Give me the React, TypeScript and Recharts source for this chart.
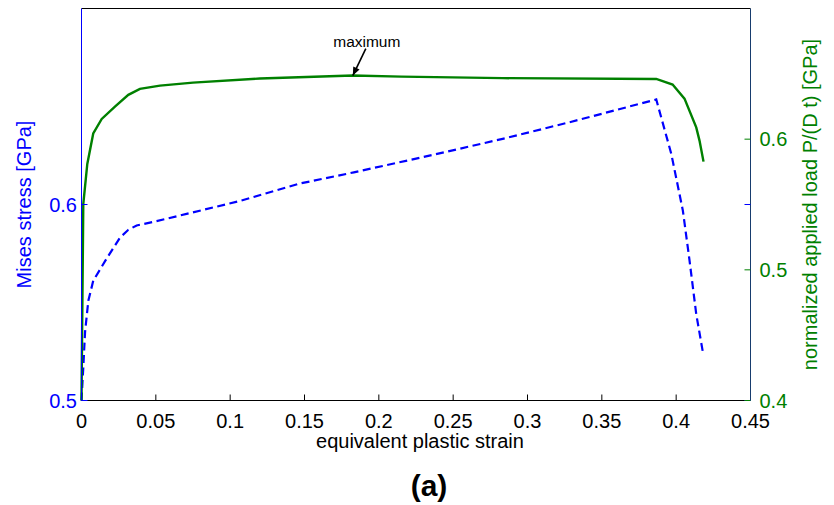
import { ComposedChart, Line, XAxis, YAxis, ReferenceDot } from "recharts";

// Mises stress (left axis), dashed blue
const stressStrain = [0, 0.0012, 0.0024, 0.0046, 0.0079, 0.0169, 0.0259, 0.0315, 0.0371, 0.0505, 0.0707, 0.1065, 0.1469, 0.1832, 0.238, 0.2833, 0.329, 0.3866, 0.3967, 0.4045, 0.409, 0.4135, 0.418];
const stressValues = [0.5, 0.5168, 0.535, 0.5509, 0.5611, 0.5724, 0.5831, 0.5871, 0.5893, 0.5915, 0.5952, 0.6018, 0.6107, 0.6164, 0.6256, 0.6335, 0.6421, 0.6536, 0.6259, 0.5969, 0.5714, 0.5441, 0.5245];

// normalized applied load (right axis), solid green
const loadStrain = [0, 0.0012, 0.0039, 0.0079, 0.0136, 0.0225, 0.0315, 0.0393, 0.0528, 0.075, 0.12, 0.1825, 0.2152, 0.2833, 0.3866, 0.3976, 0.4056, 0.4135, 0.4157, 0.4184];
const loadValues = [0.4, 0.5503, 0.581, 0.6044, 0.6155, 0.6249, 0.6339, 0.6385, 0.641, 0.6433, 0.6464, 0.6487, 0.6479, 0.6467, 0.6461, 0.6418, 0.631, 0.609, 0.5989, 0.5828];

const xTicks = [0, 0.05, 0.1, 0.15, 0.2, 0.25, 0.3, 0.35, 0.4, 0.45];
const leftTicks = [0.5, 0.6];
const rightTicks = [0.4, 0.5, 0.6];

const stressData = stressStrain.map((s, i) => ({ s, v: stressValues[i] }));
const loadData = loadStrain.map((s, i) => ({ s, v: loadValues[i] }));
const maxPoint = loadData.reduce((a, b) => (b.v > a.v ? b : a));

const BLUE = "#0000ff";
const GREEN = "#008000";
const FONT = "'Liberation Sans', Arial, Helvetica, sans-serif";
const W = 834;
const H = 505;
const LEFT_W = 81.5;
const PLOT_W = 669;
const RIGHT_W = W - LEFT_W - PLOT_W;
const TICK = 6;

const BottomTick = (props: any) => {
  const { x, y, payload, index } = props;
  const edge = index === 0 || index === xTicks.length - 1;
  return (
    <g>
      {!edge && <line x1={x} y1={y} x2={x} y2={y - TICK} stroke="#000" strokeWidth={1} />}
      <text x={x} y={y + 27} textAnchor="middle" fontSize={20} fontFamily={FONT} fill="#000">
        {String(payload.value)}
      </text>
    </g>
  );
};

const TopTick = (props: any) => {
  const { x, y, index } = props;
  if (index === 0 || index === xTicks.length - 1) return <g />;
  return <line x1={x} y1={y} x2={x} y2={y + TICK} stroke="#000" strokeWidth={1} />;
};

const LeftTick = (props: any) => {
  const { x, y, payload } = props;
  return (
    <g>
      <line x1={x} y1={y} x2={x + TICK} y2={y} stroke={BLUE} strokeWidth={1} />
      <line x1={x + PLOT_W - TICK} y1={y} x2={x + PLOT_W} y2={y} stroke={BLUE} strokeWidth={1} />
      <text x={x - 4.5} y={y} textAnchor="end" dominantBaseline="central" fontSize={20} fontFamily={FONT} fill={BLUE}>
        {String(payload.value)}
      </text>
    </g>
  );
};

const RightTick = (props: any) => {
  const { x, y, payload } = props;
  return (
    <g>
      <line x1={x - TICK} y1={y} x2={x} y2={y} stroke={GREEN} strokeWidth={1} />
      <text x={x + 9} y={y} textAnchor="start" dominantBaseline="central" fontSize={20} fontFamily={FONT} fill={GREEN}>
        {String(payload.value)}
      </text>
    </g>
  );
};

const YTitle = (props: any) => {
  const { viewBox, value, fill, dx } = props;
  const cx = viewBox.x + dx;
  const cy = viewBox.y + viewBox.height / 2;
  return (
    <text
      x={cx}
      y={cy}
      transform={`rotate(-90 ${cx} ${cy})`}
      textAnchor="middle"
      dominantBaseline="central"
      fontSize={20}
      fontFamily={FONT}
      fill={fill}
    >
      {value}
    </text>
  );
};

const XTitle = (props: any) => {
  const { viewBox } = props;
  const cx = viewBox.x + viewBox.width / 2;
  return (
    <g>
      <text x={cx + 4} y={viewBox.y + 47} textAnchor="middle" fontSize={20} fontFamily={FONT} fill="#000">
        equivalent plastic strain
      </text>
      <text x={cx + 13} y={viewBox.y + 95} textAnchor="middle" fontSize={30} fontWeight="bold" fontFamily={FONT} fill="#000">
        (a)
      </text>
    </g>
  );
};

const MaxMarker = (props: any) => {
  const { cx, cy } = props;
  const sx = cx + 13;
  const sy = cy - 27;
  const ang = Math.atan2(cy - sy, cx - sx);
  const len = 9;
  const wing = 0.4;
  const p1 = [cx - len * Math.cos(ang - wing), cy - len * Math.sin(ang - wing)];
  const p2 = [cx - len * Math.cos(ang + wing), cy - len * Math.sin(ang + wing)];
  return (
    <g>
      <line x1={sx} y1={sy} x2={cx} y2={cy} stroke="#000" strokeWidth={1.6} />
      <polygon points={`${cx},${cy} ${p1[0]},${p1[1]} ${p2[0]},${p2[1]}`} fill="#000" />
      <text x={cx + 14} y={cy - 28.5} textAnchor="middle" fontSize={15.5} fontFamily={FONT} fill="#000">
        maximum
      </text>
    </g>
  );
};

export default function App() {
  return (
    <div style={{ position: "absolute", left: 0, top: 0, width: W, height: H, background: "#fff" }}>
      <ComposedChart width={W} height={H} margin={{ top: 7.5, right: 0, bottom: 0, left: 0 }}>
        <XAxis
          xAxisId="b"
          type="number"
          dataKey="s"
          domain={[0, 0.45]}
          ticks={xTicks}
          orientation="bottom"
          height={104.5}
          axisLine={{ stroke: "#000", strokeWidth: 1 }}
          tickLine={false}
          tickSize={0}
          tickMargin={0}
          tick={<BottomTick />}
          interval={0}
          label={<XTitle />}
        />
        <XAxis
          xAxisId="t"
          type="number"
          dataKey="s"
          domain={[0, 0.45]}
          ticks={xTicks}
          orientation="top"
          height={1}
          axisLine={{ stroke: "#000", strokeWidth: 1 }}
          tickLine={false}
          tickSize={0}
          tickMargin={0}
          tick={<TopTick />}
          interval={0}
        />
        <YAxis
          yAxisId="L"
          orientation="left"
          width={LEFT_W}
          domain={[0.5, 0.7]}
          ticks={leftTicks}
          type="number"
          axisLine={{ stroke: BLUE, strokeWidth: 1 }}
          tickLine={false}
          tickSize={0}
          tickMargin={0}
          tick={<LeftTick />}
          interval={0}
          label={<YTitle value="Mises stress [GPa]" fill={BLUE} dx={24} />}
        />
        <YAxis
          yAxisId="R"
          orientation="right"
          width={RIGHT_W}
          domain={[0.4, 0.7]}
          ticks={rightTicks}
          type="number"
          axisLine={{ stroke: "#173c6e", strokeWidth: 1 }}
          tickLine={false}
          tickSize={0}
          tickMargin={0}
          tick={<RightTick />}
          interval={0}
          label={<YTitle value="normalized applied load P/(D t) [GPa]" fill={GREEN} dx={59} />}
        />
        <Line
          xAxisId="b"
          yAxisId="L"
          data={stressData}
          dataKey="v"
          type="linear"
          stroke={BLUE}
          strokeWidth={2.2}
          strokeDasharray="8 4.5"
          dot={false}
          activeDot={false}
          isAnimationActive={false}
        />
        <Line
          xAxisId="b"
          yAxisId="R"
          data={loadData}
          dataKey="v"
          type="linear"
          stroke={GREEN}
          strokeWidth={2.4}
          dot={false}
          activeDot={false}
          isAnimationActive={false}
        />
        <ReferenceDot
          xAxisId="b"
          yAxisId="R"
          x={maxPoint.s}
          y={maxPoint.v}
          r={0}
          shape={<MaxMarker />}
        />
      </ComposedChart>
    </div>
  );
}
